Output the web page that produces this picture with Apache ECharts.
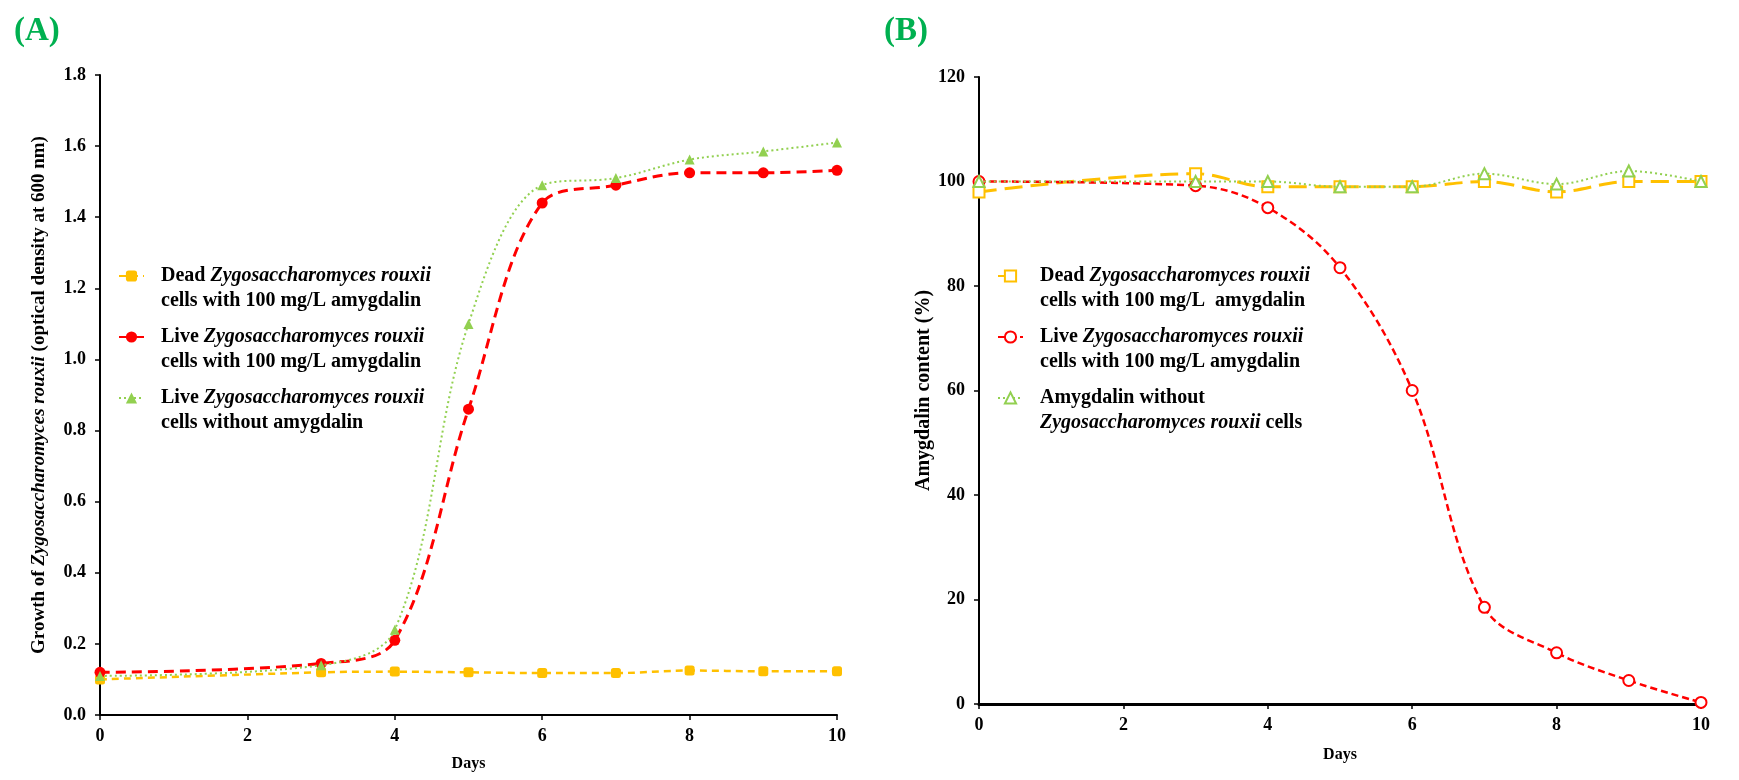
<!DOCTYPE html>
<html>
<head>
<meta charset="utf-8">
<script src="https://cdn.jsdelivr.net/npm/echarts@6/dist/echarts.min.js"></script>
<style>
html,body{margin:0;padding:0;background:#fff;}
#c{width:1739px;height:780px;}
</style>
</head>
<body>
<div id="c"></div>
<script>
// ---- data ----
const days = [0, 3, 4, 5, 6, 7, 8, 9, 10];
// Panel A: growth (OD600)
const growthDead = [0.10, 0.12, 0.122, 0.12, 0.118, 0.118, 0.125, 0.123, 0.123];
const growthLive = [0.12, 0.145, 0.21, 0.86, 1.44, 1.49, 1.525, 1.525, 1.532];
const growthNoAmyg = [0.11, 0.14, 0.24, 1.10, 1.49, 1.51, 1.562, 1.585, 1.61];
// Panel B: amygdalin content (%)
const amygDead = [98, 101.5, 99, 99, 99, 100, 98, 100, 100];
const amygLive = [100, 99.2, 95, 83.5, 60, 18.5, 9.8, 4.5, 0.3];
const amygNoCells = [100, 100, 100, 99, 99, 101.5, 99.5, 102, 100];
// tick settings
const xTicks = {min: 0, max: 10, interval: 2};
const yTicksA = {min: 0, max: 1.8, interval: 0.2};
const yTicksB = {min: 0, max: 120, interval: 20};

const pair = (ys) => days.map((d, i) => [d, ys[i]]);

const SERIF = "'Liberation Serif', 'Times New Roman', serif";
const YEL = '#FFC000', RED = '#FF0000', GRN = '#92D050';
const LFS = 20;

const legendRich = {
  e: {fontFamily: SERIF, fontSize: LFS, lineHeight: 25},
  b0: {fontFamily: SERIF, fontSize: LFS, fontWeight: 'bold', lineHeight: 25, color: '#000', padding: [0, 0, 0, 12]},
  b: {fontFamily: SERIF, fontSize: LFS, fontWeight: 'bold', lineHeight: 25, color: '#000'},
  i: {fontFamily: SERIF, fontSize: LFS, fontWeight: 'bold', fontStyle: 'italic', lineHeight: 25, color: '#000'},
  i0: {fontFamily: SERIF, fontSize: LFS, fontWeight: 'bold', fontStyle: 'italic', lineHeight: 25, color: '#000', padding: [0, 0, 0, 12]}
};

const legendText = {
  'Dead A': '{e| }\n{b0|Dead }{i|Zygosaccharomyces rouxii}\n{b0|cells with 100 mg/L amygdalin}',
  'Live A': '{e| }\n{b0|Live }{i|Zygosaccharomyces rouxii}\n{b0|cells with 100 mg/L amygdalin}',
  'NoAmyg A': '{e| }\n{b0|Live }{i|Zygosaccharomyces rouxii}\n{b0|cells without amygdalin}',
  'Dead B': '{e| }\n{b0|Dead }{i|Zygosaccharomyces rouxii}\n{b0|cells with 100 mg/L  amygdalin}',
  'Live B': '{e| }\n{b0|Live }{i|Zygosaccharomyces rouxii}\n{b0|cells with 100 mg/L amygdalin}',
  'NoCells B': '{e| }\n{b0|Amygdalin without}\n{i0|Zygosaccharomyces rouxii}{b| cells}'
};

const axisLabel = {fontFamily: SERIF, fontSize: 18, fontWeight: 'bold', color: '#000'};
const axisLine = (w) => ({show: true, lineStyle: {color: '#000', width: w}});
const axisTick = {show: true, inside: false, length: 5, lineStyle: {color: '#000', width: 1.5}};

const chart = echarts.init(document.getElementById('c'), null, {renderer: 'canvas'});
chart.setOption({
  animation: false,
  backgroundColor: '#fff',
  title: [
    {text: '(A)', left: 9, top: 10, textStyle: {fontFamily: SERIF, fontSize: 33, fontWeight: 'bold', color: '#00B050'}},
    {text: '(B)', left: 879, top: 10, textStyle: {fontFamily: SERIF, fontSize: 33, fontWeight: 'bold', color: '#00B050'}}
  ],
  grid: [
    {left: 100, top: 75, right: 902, bottom: 65, containLabel: false},
    {left: 979, top: 77, right: 38, bottom: 76, containLabel: false}
  ],
  legend: [
    {
      data: ['Dead A', 'Live A', 'NoAmyg A'],
      orient: 'vertical', left: 113, top: 236, itemGap: -9,
      itemWidth: 25, itemHeight: 14,
      formatter: (n) => legendText[n],
      textStyle: {rich: legendRich}
    },
    {
      data: ['Dead B', 'Live B', 'NoCells B'],
      orient: 'vertical', left: 992, top: 236, itemGap: -9,
      itemWidth: 25, itemHeight: 14,
      formatter: (n) => legendText[n],
      textStyle: {rich: legendRich}
    }
  ],
  xAxis: [
    {
      gridIndex: 0, type: 'value', min: xTicks.min, max: xTicks.max, interval: xTicks.interval,
      name: 'Days', nameLocation: 'middle', nameGap: 41,
      nameTextStyle: {fontFamily: SERIF, fontSize: 16, fontWeight: 'bold', color: '#000'},
      axisLine: axisLine(2), axisTick: axisTick, splitLine: {show: false},
      axisLabel: Object.assign({margin: 12}, axisLabel)
    },
    {
      gridIndex: 1, type: 'value', min: xTicks.min, max: xTicks.max, interval: xTicks.interval,
      name: 'Days', nameLocation: 'middle', nameGap: 43,
      nameTextStyle: {fontFamily: SERIF, fontSize: 16, fontWeight: 'bold', color: '#000'},
      axisLine: axisLine(3), axisTick: axisTick, splitLine: {show: false},
      axisLabel: Object.assign({margin: 12}, axisLabel)
    }
  ],
  yAxis: [
    {
      gridIndex: 0, type: 'value', min: yTicksA.min, max: yTicksA.max, interval: yTicksA.interval,
      name: '{n|Growth of }{it|Zygosaccharomyces rouxii}{n| (optical density at 600 nm)}',
      nameLocation: 'middle', nameGap: 51,
      nameTextStyle: {
        fontWeight: 'bold',
        rich: {
          n: {fontFamily: SERIF, fontSize: 19, fontWeight: 'bold', color: '#000'},
          it: {fontFamily: SERIF, fontSize: 19, fontWeight: 'bold', fontStyle: 'italic', color: '#000'}
        }
      },
      axisLine: axisLine(2), axisTick: axisTick, splitLine: {show: false},
      axisLabel: Object.assign({margin: 14, formatter: (v) => v.toFixed(1)}, axisLabel)
    },
    {
      gridIndex: 1, type: 'value', min: yTicksB.min, max: yTicksB.max, interval: yTicksB.interval,
      name: 'Amygdalin content (%)',
      nameLocation: 'middle', nameGap: 38,
      nameTextStyle: {fontFamily: SERIF, fontSize: 20, fontWeight: 'bold', color: '#000'},
      axisLine: axisLine(2), axisTick: axisTick, splitLine: {show: false},
      axisLabel: Object.assign({margin: 14}, axisLabel)
    }
  ],
  series: [
    {
      name: 'Dead A', type: 'line', xAxisIndex: 0, yAxisIndex: 0, data: pair(growthDead),
      smooth: 0.35, symbol: 'roundRect', symbolSize: 10, z: 3,
      itemStyle: {color: YEL}, lineStyle: {color: YEL, width: 2.5, type: [7, 5]}
    },
    {
      name: 'Live A', type: 'line', xAxisIndex: 0, yAxisIndex: 0, data: pair(growthLive),
      smooth: 0.35, symbol: 'circle', symbolSize: 11, z: 4,
      itemStyle: {color: RED}, lineStyle: {color: RED, width: 3, type: [10, 6]}
    },
    {
      name: 'NoAmyg A', type: 'line', xAxisIndex: 0, yAxisIndex: 0, data: pair(growthNoAmyg),
      smooth: 0.35, symbol: 'triangle', symbolSize: 10, z: 5,
      itemStyle: {color: GRN}, lineStyle: {color: GRN, width: 2, type: [2, 3]}
    },
    {
      name: 'Dead B', type: 'line', xAxisIndex: 1, yAxisIndex: 1, data: pair(amygDead),
      smooth: 0.35, symbol: 'emptyRect', symbolSize: 11, z: 3,
      itemStyle: {color: YEL, borderWidth: 1.5}, lineStyle: {color: YEL, width: 3, type: [18, 8]}
    },
    {
      name: 'Live B', type: 'line', xAxisIndex: 1, yAxisIndex: 1, data: pair(amygLive),
      smooth: 0.35, symbol: 'emptyCircle', symbolSize: 11, z: 4,
      itemStyle: {color: RED, borderWidth: 1.5}, lineStyle: {color: RED, width: 2.5, type: [7, 4]}
    },
    {
      name: 'NoCells B', type: 'line', xAxisIndex: 1, yAxisIndex: 1, data: pair(amygNoCells),
      smooth: 0.35, symbol: 'emptyTriangle', symbolSize: 11, z: 5,
      itemStyle: {color: GRN, borderWidth: 1.5}, lineStyle: {color: GRN, width: 2, type: [2, 3]}
    }
  ]
});
</script>
</body>
</html>
